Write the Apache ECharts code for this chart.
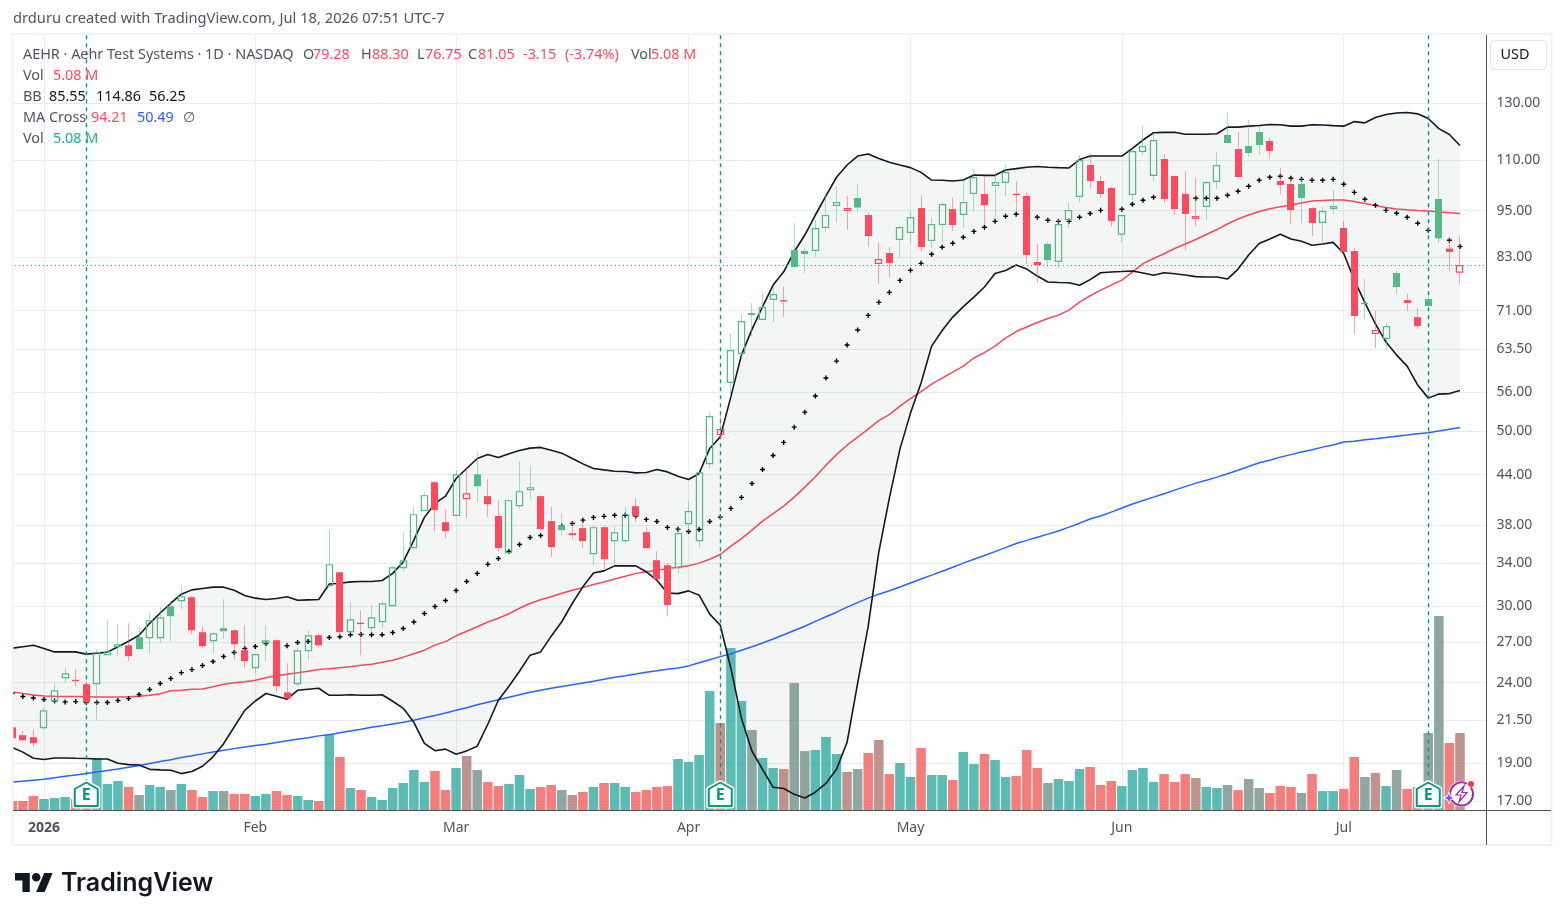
<!DOCTYPE html>
<html>
<head>
<meta charset="utf-8">
<title>AEHR daily chart</title>
<style>html,body{margin:0;padding:0;background:#fff}#chart{width:1564px;height:920px}</style>
<script src="https://cdn.jsdelivr.net/npm/echarts@6/dist/echarts.min.js"></script>
</head>
<body>
<div id="chart"></div>
<script>
// Session dates, plus two empty slots to the right of the last session.
const categories = [
'2025-12-29','2025-12-30','2025-12-31',
'2026-01-02','2026-01-05','2026-01-06','2026-01-07','2026-01-08','2026-01-09','2026-01-12','2026-01-13','2026-01-14','2026-01-15','2026-01-16','2026-01-20','2026-01-21','2026-01-22','2026-01-23','2026-01-26','2026-01-27','2026-01-28','2026-01-29','2026-01-30',
'2026-02-02','2026-02-03','2026-02-04','2026-02-05','2026-02-06','2026-02-09','2026-02-10','2026-02-11','2026-02-12','2026-02-13','2026-02-17','2026-02-18','2026-02-19','2026-02-20','2026-02-23','2026-02-24','2026-02-25','2026-02-26','2026-02-27',
'2026-03-02','2026-03-03','2026-03-04','2026-03-05','2026-03-06','2026-03-09','2026-03-10','2026-03-11','2026-03-12','2026-03-13','2026-03-16','2026-03-17','2026-03-18','2026-03-19','2026-03-20','2026-03-23','2026-03-24','2026-03-25','2026-03-26','2026-03-27','2026-03-30','2026-03-31',
'2026-04-01','2026-04-02','2026-04-06','2026-04-07','2026-04-08','2026-04-09','2026-04-10','2026-04-13','2026-04-14','2026-04-15','2026-04-16','2026-04-17','2026-04-20','2026-04-21','2026-04-22','2026-04-23','2026-04-24','2026-04-27','2026-04-28','2026-04-29','2026-04-30',
'2026-05-01','2026-05-04','2026-05-05','2026-05-06','2026-05-07','2026-05-08','2026-05-11','2026-05-12','2026-05-13','2026-05-14','2026-05-15','2026-05-18','2026-05-19','2026-05-20','2026-05-21','2026-05-22','2026-05-26','2026-05-27','2026-05-28','2026-05-29',
'2026-06-01','2026-06-02','2026-06-03','2026-06-04','2026-06-05','2026-06-08','2026-06-09','2026-06-10','2026-06-11','2026-06-12','2026-06-15','2026-06-16','2026-06-17','2026-06-18','2026-06-22','2026-06-23','2026-06-24','2026-06-25','2026-06-26','2026-06-29','2026-06-30',
'2026-07-01','2026-07-02','2026-07-06','2026-07-07','2026-07-08','2026-07-09','2026-07-10','2026-07-13','2026-07-14','2026-07-15','2026-07-16','2026-07-17',
' ','  '];

const opens = [
21.07,20.59,20.47,21.01,22.73,24.31,24.20,23.89,23.89,26.00,
26.61,26.76,27.40,27.32,27.32,29.99,30.43,30.79,27.80,27.08,
28.13,27.96,26.38,25.03,26.92,27.16,23.33,23.89,26.30,27.56,
31.79,33.11,27.80,28.58,28.13,28.62,29.99,33.50,35.51,39.57,
43.05,38.32,39.00,40.97,44.05,41.33,39.00,35.00,40.14,42.06,
41.33,38.43,37.98,36.89,37.65,34.90,37.76,36.25,36.25,40.14,
37.21,34.29,33.80,33.50,38.09,36.25,45.36,49.38,57.47,62.54,
70.47,69.05,73.20,73.10,84.69,84.45,84.45,90.30,96.27,94.89,
98.56,93.79,81.30,83.96,87.19,88.99,95.71,86.94,91.10,95.43,
93.79,99.72,99.72,102.07,102.96,99.80,99.14,81.78,86.19,81.78,
92.43,98.85,108.51,103.56,101.48,88.53,99.43,112.69,105.09,110.42,
105.09,99.72,92.70,95.99,103.26,118.42,113.68,114.67,119.46,116.37,
103.56,102.67,102.67,95.71,91.63,95.43,90.30,84.45,72.62,66.30,
65.33,79.19,73.20,69.65,73.41,98.27,85.06,79.28];

const highs = [
21.20,20.83,20.95,22.27,23.96,25.03,24.95,24.03,26.46,28.79,
28.45,28.53,28.20,29.39,29.90,30.43,31.88,30.88,28.30,27.80,
30.61,28.04,28.37,26.08,28.37,27.24,25.40,26.61,27.96,27.72,
37.54,33.11,30.34,29.64,30.08,30.43,33.70,37.21,40.03,41.81,
43.17,39.80,44.58,44.84,46.99,43.43,40.85,40.97,45.76,45.22,
41.45,40.03,39.33,38.43,38.54,37.98,37.87,37.87,40.03,41.09,
37.76,35.21,34.00,37.65,40.73,44.32,52.65,52.65,66.30,70.25,
72.56,74.70,75.81,76.03,91.63,85.19,92.43,99.72,102.07,99.14,
102.67,94.61,86.69,85.44,90.84,94.89,99.43,93.25,97.41,98.56,
103.86,107.24,104.78,106.62,108.85,103.56,100.00,86.19,86.69,92.70,
97.12,111.72,112.05,105.09,101.78,93.79,114.01,121.91,119.11,112.05,
105.09,106.62,104.47,103.56,112.69,126.62,119.46,123.71,121.55,117.40,
107.57,104.47,104.47,95.99,95.99,100.88,92.16,85.19,77.82,70.88,
68.45,79.66,74.49,71.51,74.05,110.42,87.70,88.30];

const lows = [
20.23,20.23,19.88,20.89,22.60,24.03,23.75,22.47,21.51,26.00,
26.00,25.55,26.46,26.15,27.00,27.08,29.73,27.64,26.53,26.15,
27.24,25.70,25.03,24.66,25.55,23.33,22.80,23.75,25.62,26.61,
31.79,27.64,27.72,26.00,27.80,28.13,29.99,33.21,35.51,39.57,
37.32,36.56,39.00,38.77,40.61,38.88,35.21,34.90,39.80,40.97,
37.43,34.60,36.89,36.46,35.52,33.80,33.40,33.80,36.04,38.32,
35.51,32.44,29.13,33.02,37.21,35.62,44.84,48.80,55.17,62.00,
65.91,69.05,68.65,69.65,80.60,79.20,82.98,89.25,91.63,89.77,
94.61,85.44,76.70,78.05,82.74,86.19,84.20,85.19,86.44,89.51,
90.30,94.89,91.37,93.25,99.14,94.61,81.30,76.91,80.60,80.36,
90.30,97.41,101.48,98.56,90.84,86.69,97.98,111.72,103.26,97.12,
93.79,84.69,90.84,92.43,101.18,115.70,104.47,111.05,111.72,110.42,
99.72,91.37,91.63,88.22,86.19,94.06,84.20,66.30,69.25,63.64,
63.46,74.49,70.88,67.27,71.93,86.44,79.66,76.75];

const closes = [
20.41,20.29,20.11,22.14,23.47,24.66,24.14,22.67,26.23,26.30,
26.84,25.92,26.46,28.79,29.04,29.13,30.88,27.96,26.69,27.72,
27.88,26.84,25.55,26.08,27.16,23.75,22.93,26.38,27.56,26.76,
33.90,27.80,28.87,28.52,29.04,30.25,33.60,34.29,39.22,41.45,
39.68,37.32,44.05,41.69,42.55,40.37,35.52,40.85,41.94,42.43,
37.54,35.62,37.43,37.11,36.25,37.76,34.39,37.21,39.22,39.00,
35.51,32.44,30.08,37.11,39.57,44.32,52.19,50.25,63.27,68.85,
70.06,71.72,74.48,73.20,80.60,83.71,90.30,93.79,97.41,95.71,
95.85,88.22,82.49,81.54,90.57,93.25,85.44,91.37,96.84,91.10,
97.41,104.78,96.56,103.26,106.31,99.70,83.47,81.07,82.25,91.37,
95.16,110.10,103.56,99.72,92.16,93.79,113.02,114.67,116.71,98.27,
95.43,94.06,93.52,103.26,108.51,115.70,104.78,112.37,115.02,113.02,
102.37,95.16,98.56,91.63,94.89,96.27,84.20,69.87,72.50,67.07,
67.85,76.03,72.56,67.85,71.93,87.70,84.20,81.05];

// Share volume in millions.
const volumes = [
0.59,0.59,0.92,0.73,0.79,0.86,0.73,0.59,3.41,1.72,
1.91,1.52,0.99,1.65,1.52,1.32,1.72,1.32,0.86,1.25,
1.25,1.06,1.06,0.92,1.06,1.25,0.99,0.92,0.66,0.59,
5.01,3.50,1.45,1.32,0.86,0.66,1.45,1.78,2.64,1.85,
2.57,1.32,2.77,3.56,2.64,1.85,1.58,1.72,2.31,1.39,
1.52,1.65,1.32,0.99,1.19,1.52,1.78,1.78,1.52,1.19,
1.32,1.52,1.58,3.36,3.17,3.63,7.85,5.74,10.69,7.19,
5.28,3.43,2.77,2.70,8.38,3.89,3.96,4.82,3.69,2.51,
2.70,3.76,4.62,2.37,3.10,2.18,4.09,2.31,2.31,1.98,
3.83,3.03,3.69,3.30,2.18,2.24,3.96,2.77,1.78,2.04,
1.91,2.70,2.84,1.65,1.91,1.58,2.64,2.77,1.85,2.37,
1.85,2.37,2.11,1.52,1.45,1.65,1.32,2.04,1.45,1.12,
1.58,1.52,1.12,2.37,1.25,1.25,1.39,3.50,2.18,2.44,
1.58,2.64,1.39,1.52,5.08,12.80,4.42,5.08];

const bbUpper = [
26.54,26.65,26.76,26.51,26.25,26.25,26.25,26.08,26.15,26.23,
26.65,27.08,27.56,28.53,29.40,30.25,31.06,31.45,31.58,31.70,
31.70,31.42,30.94,30.70,30.58,30.67,30.82,30.52,30.55,30.58,
32.00,32.07,32.19,32.23,32.23,32.32,33.00,34.12,36.35,38.85,
40.46,41.33,43.51,44.80,46.13,46.67,46.26,46.78,47.22,47.54,
47.64,47.26,46.85,46.13,45.41,44.80,44.62,44.45,44.41,44.23,
44.28,44.67,44.36,43.81,43.39,44.16,47.50,49.13,55.20,62.35,
67.20,71.79,76.47,79.48,84.27,88.47,93.79,99.14,104.70,108.51,
111.38,112.03,110.55,109.37,108.51,107.68,106.20,103.86,103.77,103.56,
103.86,105.38,105.29,105.29,106.93,107.37,107.82,108.03,107.82,107.68,
107.57,110.26,111.38,111.38,111.38,111.38,113.90,116.71,119.20,119.35,
119.35,118.66,118.66,118.66,118.87,121.17,121.17,121.52,121.77,122.13,
121.99,121.52,121.52,121.99,121.95,121.70,121.52,123.14,122.70,124.63,
125.73,126.27,126.47,125.96,124.25,120.63,118.59,114.86];

const bbBasis = [
23.25,23.05,22.95,22.85,22.75,22.69,22.71,22.65,22.65,22.65,
22.78,22.91,23.18,23.52,23.94,24.29,24.71,24.93,25.23,25.52,
25.90,26.20,26.51,26.67,26.90,26.81,26.72,26.98,27.06,27.22,
27.38,27.43,27.59,27.62,27.59,27.59,27.78,28.10,28.64,29.36,
29.96,30.49,31.39,32.23,33.00,33.88,34.47,35.18,35.90,36.64,
36.86,37.51,37.88,38.17,38.54,38.85,38.97,39.09,39.09,39.00,
38.62,38.39,37.73,37.54,37.29,37.51,38.39,38.88,39.88,41.18,
42.89,44.67,46.53,48.34,50.54,52.80,55.33,58.31,61.27,64.20,
67.07,70.00,72.71,74.86,77.52,79.82,81.46,83.64,85.37,86.37,
87.89,89.42,90.49,92.07,93.45,94.00,94.37,93.17,92.35,92.07,
92.07,93.17,94.20,95.07,95.30,95.36,96.76,97.90,98.77,99.72,
100.02,98.85,98.47,98.47,98.47,99.34,100.50,101.98,103.77,104.70,
105.00,104.38,104.07,103.77,103.77,104.07,102.57,100.20,98.18,96.49,
95.08,94.27,93.17,91.55,89.69,88.22,87.12,85.55];

const bbLower = [
19.87,19.60,19.25,19.18,19.27,19.27,19.25,19.24,19.21,19.21,
18.97,18.90,18.88,18.64,18.61,18.59,18.41,18.52,18.81,19.33,
20.09,21.09,22.14,22.75,23.25,23.06,22.87,23.47,23.54,23.61,
23.13,23.13,23.17,23.13,23.13,23.17,22.73,22.27,21.38,20.11,
19.68,19.77,19.48,19.67,19.94,21.26,22.80,23.75,24.81,26.00,
26.25,27.48,28.66,30.25,31.73,33.04,33.24,33.73,33.73,33.73,
33.15,32.35,31.17,31.11,31.36,30.97,29.30,28.37,25.03,21.63,
19.65,18.64,17.69,17.63,17.33,17.15,17.44,17.89,18.64,20.17,
23.96,28.30,35.10,41.09,47.40,52.65,57.47,64.00,66.97,69.65,
71.80,73.84,76.03,79.08,79.77,81.07,80.12,78.50,77.14,77.03,
76.99,76.41,77.70,79.27,79.43,79.54,79.66,79.19,78.67,79.27,
79.02,78.74,78.37,78.28,78.28,77.82,80.12,83.47,86.30,87.45,
88.65,87.45,86.87,85.86,86.19,86.61,83.83,77.59,72.67,68.26,
64.76,62.35,60.38,57.13,55.00,55.65,55.73,56.25];

const ma50 = [
23.35,23.26,23.15,23.08,23.06,23.05,23.05,23.03,23.01,23.01,
23.02,23.03,23.06,23.13,23.24,23.44,23.47,23.54,23.56,23.72,
23.89,24.00,24.07,24.17,24.35,24.49,24.60,24.70,24.81,24.93,
25.00,25.06,25.14,25.25,25.32,25.47,25.62,25.85,26.11,26.38,
26.77,27.05,27.51,27.88,28.25,28.64,28.95,29.34,29.81,30.23,
30.56,30.83,31.15,31.42,31.66,31.94,32.19,32.47,32.73,33.00,
33.16,33.31,33.46,33.60,33.75,34.00,34.39,34.87,35.72,36.52,
37.43,38.43,39.27,40.14,41.21,42.43,43.74,45.24,46.65,47.95,
49.09,50.25,51.50,52.43,53.73,54.93,56.05,57.30,58.31,59.33,
60.38,61.82,62.81,64.00,65.53,66.78,67.66,68.56,69.36,70.06,
71.09,72.77,74.13,75.36,76.47,77.59,79.42,81.40,82.62,83.78,
85.07,86.19,87.32,88.60,89.90,91.37,92.70,93.79,94.75,95.53,
96.09,96.56,97.13,97.70,97.84,97.98,97.98,97.55,96.98,96.41,
95.87,95.43,95.22,95.02,94.89,94.61,94.42,94.21];

const ma200 = [
17.96,18.01,18.06,18.11,18.19,18.27,18.34,18.41,18.50,18.58,
18.66,18.75,18.85,18.96,19.07,19.17,19.29,19.39,19.50,19.61,
19.71,19.80,19.89,19.98,20.06,20.16,20.26,20.35,20.44,20.55,
20.62,20.74,20.85,20.95,21.08,21.17,21.28,21.38,21.51,21.67,
21.81,21.97,22.14,22.31,22.50,22.67,22.83,23.00,23.17,23.33,
23.47,23.61,23.73,23.86,23.98,24.10,24.24,24.38,24.49,24.61,
24.74,24.84,24.95,25.05,25.20,25.43,25.66,25.89,26.11,26.38,
26.65,26.94,27.26,27.59,27.94,28.29,28.69,29.08,29.47,29.91,
30.30,30.70,31.06,31.37,31.72,32.09,32.46,32.83,33.21,33.60,
34.00,34.39,34.77,35.16,35.57,36.00,36.33,36.67,37.00,37.34,
37.76,38.20,38.66,39.00,39.45,39.92,40.40,40.80,41.21,41.63,
42.06,42.49,42.93,43.30,43.69,44.13,44.58,45.06,45.56,45.90,
46.31,46.65,47.00,47.33,47.68,47.97,48.41,48.51,48.70,48.87,
49.05,49.23,49.38,49.58,49.73,49.97,50.23,50.49];

const priceTicks = [130,110,95,83,71,63.5,56,50,44,38,34,30,27,24,21.5,19,17];
const monthStarts = ['2026-01-02','2026-02-02','2026-03-02','2026-04-01','2026-05-01','2026-06-01','2026-07-01'];
const monthNames = ['2026','Feb','Mar','Apr','May','Jun','Jul'];
const earningsDates = ['2026-01-08','2026-04-07','2026-07-14'];
const lastClose = 81.05;

const UP = '#53b987', DOWN = '#ff4a5e', EARN = '#089981', TEXT = '#50535e', GRID = '#e6ecf1';
const FONT = "'Noto Sans', sans-serif";

// Body outline: close against open. Colour: close against the prior close.
const isHollow = k => closes[k] >= opens[k];
const isRising = k => k > 0 && closes[k] >= closes[k - 1];
const isMonthStart = (i, name) => monthStarts.includes(name);

function renderCandle(params, api) {
  const k = api.value(0);
  const [x, yO] = api.coord([k, api.value(1)]);
  const yC = api.coord([k, api.value(2)])[1];
  const yL = api.coord([k, api.value(3)])[1];
  const yH = api.coord([k, api.value(4)])[1];
  const col = isRising(k) ? UP : DOWN;
  const top = Math.min(yO, yC), bot = Math.max(yO, yC);
  const cx = Math.round(x - 0.5);
  const wick = (a, b) => ({type: 'rect', shape: {x: cx, y: a, width: 1, height: Math.max(b - a, 0)},
    style: {fill: col, opacity: 0.5}});
  const body = isHollow(k) && bot - top >= 1.5
    ? {type: 'rect', shape: {x: cx - 2.6, y: top + 0.6, width: 6.2, height: bot - top - 1.2},
       style: {fill: 'none', stroke: col, lineWidth: 1.2}}
    : {type: 'rect', shape: {x: cx - 3, y: top, width: 7, height: Math.max(bot - top, 1.4)},
       style: {fill: col}};
  return {type: 'group', children: [wick(yH, top), wick(bot, yL), body]};
}

function renderBand(params, api) {
  const pts = [];
  bbUpper.forEach((v, k) => pts.push(api.coord([k, v])));
  for (let k = bbLower.length - 1; k >= 0; k--) pts.push(api.coord([k, bbLower[k]]));
  return {type: 'polygon', shape: {points: pts}, style: {fill: 'rgba(70,95,95,0.058)'}};
}

function renderBadge(params, api) {
  const x = api.coord([api.value(0), 20])[0];
  const pts = [[x - 11.5, 789], [x, 782.5], [x + 11.5, 789], [x + 11.5, 806], [x - 11.5, 806]];
  return {type: 'group', children: [
    {type: 'polygon', shape: {points: pts}, style: {fill: '#fff', stroke: '#fff', lineWidth: 5, lineJoin: 'round'}},
    {type: 'polygon', shape: {points: pts}, style: {fill: '#fff', stroke: EARN, lineWidth: 2, lineJoin: 'round'}},
    {type: 'text', style: {text: 'E', x: x, y: 795, textAlign: 'center', textVerticalAlign: 'middle',
      fill: EARN, font: "bold 16px 'Noto Sans', sans-serif"}}
  ]};
}

const lineSeries = (data, color, width, z, extra) => Object.assign({
  type: 'line', data, yAxisIndex: 0, showSymbol: false, silent: true, z,
  lineStyle: {color, width}, itemStyle: {color}
}, extra || {});

const textEl = (x, y, text, fill, opts) => Object.assign({
  type: 'text', x, y, z: 200,
  style: Object.assign({text, fill, font: '14.4px ' + FONT, textVerticalAlign: 'middle'}, opts || {})
});

const legendLabels = [
  [23, 55, 'AEHR · Aehr Test Systems · 1D · NASDAQ', TEXT],
  [303, 55, 'O', TEXT], [313, 55, '79.28', DOWN],
  [361, 55, 'H', TEXT], [372, 55, '88.30', DOWN],
  [417, 55, 'L', TEXT], [425, 55, '76.75', DOWN],
  [468, 55, 'C', TEXT], [478, 55, '81.05', DOWN],
  [523, 55, '-3.15', DOWN], [565, 55, '(-3.74%)', DOWN],
  [631, 55, 'Vol', TEXT], [651, 55, '5.08 M', DOWN],
  [23, 76, 'Vol', TEXT], [53, 76, '5.08 M', DOWN],
  [23, 97, 'BB', TEXT], [49, 97, '85.55', '#131722'], [96, 97, '114.86', '#131722'], [149, 97, '56.25', '#131722'],
  [23, 118, 'MA Cross', TEXT], [91, 118, '94.21', DOWN], [137, 118, '50.49', '#2962ff'], [183, 118, '∅', TEXT],
  [23, 139, 'Vol', TEXT], [53, 139, '5.08 M', '#22ab94']
];

const option = {
  animation: false,
  backgroundColor: '#fff',
  grid: {left: 7, top: 35, width: 1479.4, height: 775},
  xAxis: {
    type: 'category', data: categories, boundaryGap: true,
    axisLine: {show: false}, axisTick: {show: false},
    axisLabel: {
      interval: isMonthStart, margin: 11, color: TEXT, fontFamily: 'Noto Sans', fontSize: 14,
      formatter: v => {
        const t = monthNames[monthStarts.indexOf(v)];
        return t === '2026' ? '{b|2026}' : t;
      },
      rich: {b: {fontWeight: 'bold', color: TEXT, fontFamily: 'Noto Sans', fontSize: 14}}
    },
    splitLine: {show: true, interval: isMonthStart, alignWithLabel: true, lineStyle: {color: GRID, width: 1}}
  },
  yAxis: [{
    type: 'log', position: 'right', min: 16.557, max: 158.5,
    axisLine: {show: false}, axisTick: {show: false, customValues: priceTicks},
    axisLabel: {customValues: priceTicks, margin: 10, color: TEXT, fontFamily: 'Noto Sans', fontSize: 14,
      padding: [2, 0, 0, 0], formatter: v => Number(v).toFixed(2)},
    splitLine: {show: true, lineStyle: {color: GRID, width: 1}}
  }, {
    type: 'value', min: 0, max: 51.12, show: false, splitLine: {show: false}
  }],
  series: [
    {type: 'custom', renderItem: renderBand, data: [[0]], clip: true, silent: true, z: 1},
    {type: 'bar', yAxisIndex: 1, barWidth: 9.4, barGap: '-100%', silent: true, z: 2,
     data: volumes.map((v, k) => ({value: v, itemStyle: {color: isHollow(k) ? 'rgba(38,166,154,0.5)' : 'rgba(239,83,80,0.5)'}}))},
    {type: 'bar', yAxisIndex: 1, barWidth: 9.4, barGap: '-100%', silent: true, z: 2,
     data: volumes.map((v, k) => ({value: v, itemStyle: {color: isRising(k) ? 'rgba(38,166,154,0.5)' : 'rgba(239,83,80,0.5)'}}))},
    lineSeries(ma200, '#2962ff', 1.5, 3),
    lineSeries(ma50, '#f7475b', 1.5, 3, {
      markLine: {silent: true, symbol: 'none', animation: false, label: {show: false},
        lineStyle: {color: '#f7525f', type: [1, 3], width: 1}, data: [{yAxis: lastClose}]}
    }),
    lineSeries(bbUpper, '#131722', 1.6, 3),
    lineSeries(bbLower, '#131722', 1.6, 3, {
      markLine: {silent: true, symbol: 'none', animation: false, label: {show: false},
        lineStyle: {color: EARN, type: [4, 4], width: 1.4},
        data: earningsDates.map(d => [{coord: [d, 158.4]}, {coord: [d, 17.6]}])}
    }),
    {type: 'scatter', data: bbBasis.map((v, k) => [k, v]), silent: true, z: 4,
     symbol: 'path://M1.8 0h1.4v1.8H5v1.4H3.2V5H1.8V3.2H0V1.8h1.8z', symbolSize: 5, itemStyle: {color: '#000', opacity: 1}},
    {type: 'custom', renderItem: renderCandle, silent: true, clip: true, z: 5,
     encode: {x: 0, y: [1, 2, 3, 4]},
     data: closes.map((c, k) => [k, opens[k], c, lows[k], highs[k]])},
    {type: 'custom', renderItem: renderBadge, silent: true, z: 6, encode: {x: 0},
     data: earningsDates.map(d => [categories.indexOf(d)])}
  ],
  graphic: [
    // Strip left of the pane, which hides the half candle's outer side.
    {type: 'rect', shape: {x: 0, y: 30, width: 12.5, height: 820}, style: {fill: '#fff'}, z: 150},
    {type: 'rect', shape: {x: 12.5, y: 34, width: 1539, height: 811},
     style: {fill: 'none', stroke: '#f0f3f5', lineWidth: 2}, z: 151},
    {type: 'line', shape: {x1: 13, y1: 810.5, x2: 1551, y2: 810.5}, style: {stroke: '#50535e', lineWidth: 1}, z: 152},
    {type: 'line', shape: {x1: 1486.5, y1: 35, x2: 1486.5, y2: 845}, style: {stroke: '#50535e', lineWidth: 1}, z: 152},
    {type: 'rect', shape: {x: 1490.5, y: 40.5, width: 56, height: 29, r: 4},
     style: {fill: '#fff', stroke: '#e0e3eb', lineWidth: 1}, z: 152},
    textEl(1515, 55, 'USD', '#131722', {textAlign: 'center'}),
    textEl(13, 18.5, 'drduru created with TradingView.com, Jul 18, 2026 07:51 UTC-7', TEXT, {font: '14.7px ' + FONT}),
    ...legendLabels.map(a => textEl(a[0], a[1], a[2], a[3])),
    // Wordmark
    {type: 'polygon', z: 200, shape: {points: [[29.8, 892.1], [22.4, 892.1], [22.4, 880.5], [15, 880.5], [15, 873], [29.8, 873]]}, style: {fill: '#131722'}},
    {type: 'polygon', z: 200, shape: {points: [[44.7, 892.1], [36.2, 892.1], [44.2, 873], [52.6, 873]]}, style: {fill: '#131722'}},
    {type: 'circle', z: 200, shape: {cx: 36.2, cy: 877.3, r: 4.24}, style: {fill: '#131722'}},
    textEl(61, 883, 'TradingView', '#131722', {font: "600 25px 'Inter', sans-serif"}),
    // Alert and assistant icons beside the last session
    {type: 'circle', z: 190, shape: {cx: 1461.5, cy: 794, r: 13}, style: {fill: '#fff'}},
    {type: 'arc', z: 191, shape: {cx: 1461.5, cy: 794, r: 11.5, startAngle: -0.6, endAngle: 5.2},
     style: {stroke: '#9c27b0', lineWidth: 2, fill: 'none'}},
    {type: 'polygon', z: 192, shape: {points: [[1464, 786], [1456, 795], [1461, 795], [1459, 802], [1467, 792.5], [1462, 792.5]]},
     style: {fill: '#fff', stroke: '#9c27b0', lineWidth: 1.2}},
    {type: 'polygon', z: 193, shape: {points: [[1449, 792], [1450.6, 796.4], [1455, 798], [1450.6, 799.6], [1449, 804], [1447.4, 799.6], [1443, 798], [1447.4, 796.4]]},
     style: {fill: '#7c4dff', stroke: '#fff', lineWidth: 1}},
    {type: 'circle', z: 194, shape: {cx: 1471, cy: 784, r: 3}, style: {fill: '#f23645'}}
  ]
};

echarts.init(document.getElementById('chart'), null, {renderer: 'canvas'}).setOption(option);
</script>
</body>
</html>
